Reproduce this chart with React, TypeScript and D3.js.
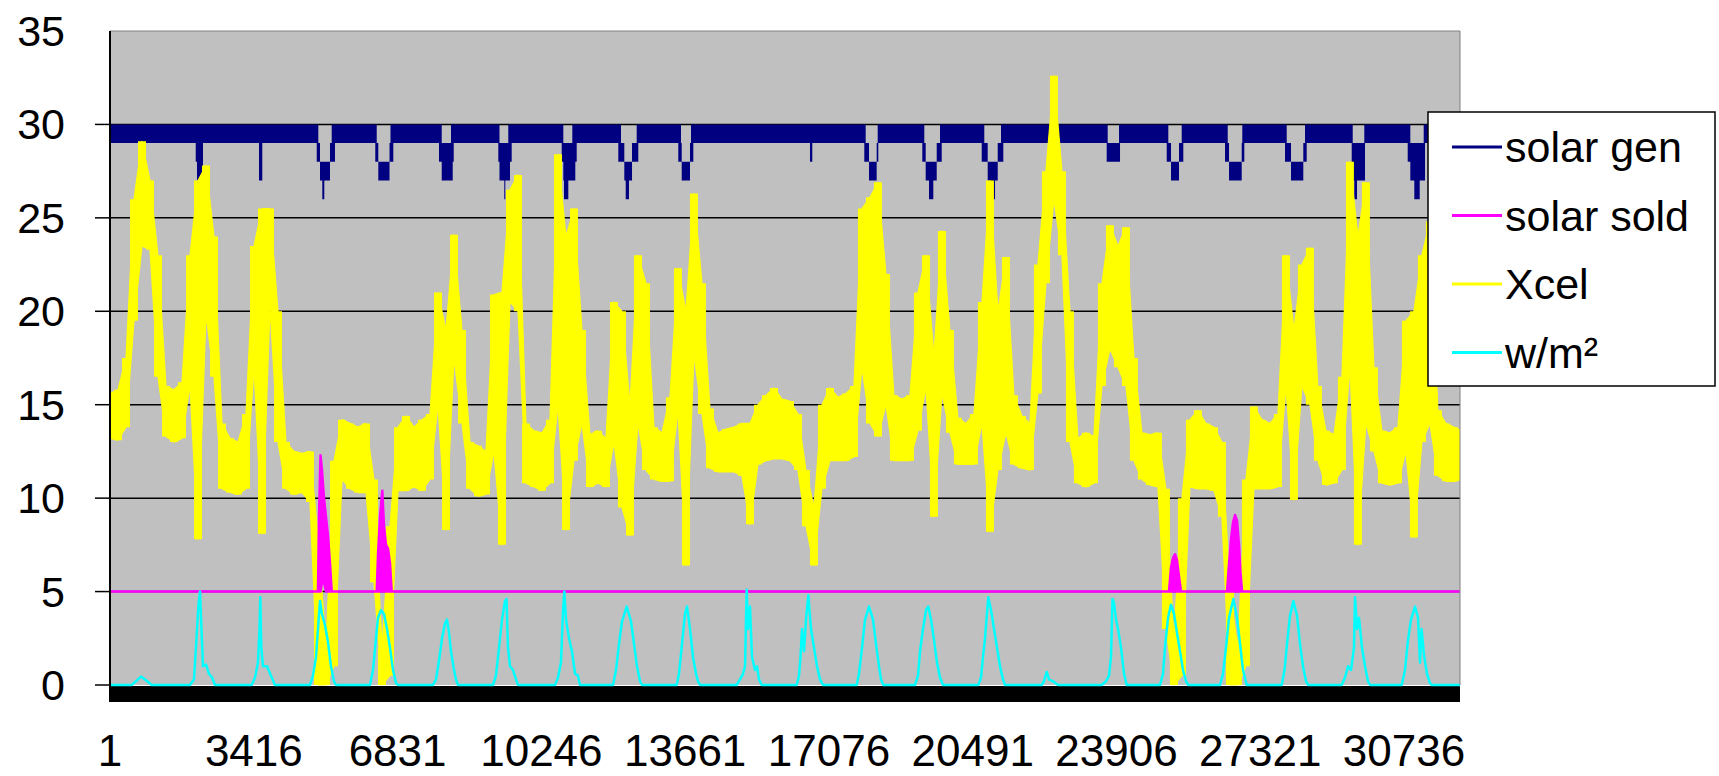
import React from "react";
import * as d3 from "d3";

const W = 1719;
const H = 776;
const N_POINTS = 32065;
const SAMPLE_STEP = 190; // Xcel low/high read every 190 readings

const yTicks = [0, 5, 10, 15, 20, 25, 30, 35];
const xLabels = [1, 3416, 6831, 10246, 13661, 17076, 20491, 23906, 27321, 30736];

// solar gen: stepped levels, each starting at a reading index
const genIdx = [
  0, 2036, 2066, 2121, 2173, 2209, 3539, 3617,
  4910, 4948, 4988, 5043, 5090, 5225, 5266, 5344,
  6301, 6335, 6373, 6639, 6662, 6729,
  7814, 7879, 8099, 8140, 8164,
  9223, 9251, 9365, 9389, 9460, 9501, 9541,
  10729, 10767, 10783, 10886, 10981, 11052, 11085,
  12073, 12137, 12216, 12249, 12327, 12399, 12510, 12548,
  13498, 13562, 13579, 13776, 13800, 13855,
  16626, 16681,
  17916, 17949, 18028, 18210, 18234, 18249,
  19294, 19341, 19374, 19453, 19555, 19636, 19714, 19755,
  20705, 20766, 20847, 20878, 21021, 21085, 21163, 21218,
  23673, 23697, 23966, 23990,
  25099, 25137, 25201, 25391, 25455, 25493,
  26484, 26548, 26579, 26880, 26894, 26942,
  27909, 27949, 28051, 28343, 28384, 28424,
  29493, 29517, 29555, 29619, 29792, 29809,
  30823, 30885, 30980, 31108, 31203, 31234,
  32065,
];
const genLow = [
  29, 28, 27, 26, 27, 29, 27, 29,
  28, 28, 27, 26, 27, 28, 28, 29,
  28, 28, 27, 28, 28, 29,
  28, 27, 27, 28, 29,
  28, 27, 26, 27, 27, 28, 29,
  28, 27, 26, 27, 27, 28, 29,
  28, 28, 27, 26, 27, 28, 28, 29,
  28, 28, 27, 28, 28, 29,
  28, 29,
  28, 28, 27, 28, 28, 29,
  28, 28, 27, 26, 27, 28, 28, 29,
  28, 28, 27, 26, 27, 28, 28, 29,
  28, 28, 28, 29,
  28, 28, 27, 28, 28, 29,
  28, 28, 27, 28, 28, 29,
  28, 28, 27, 28, 28, 29,
  27, 27, 26, 27, 27, 29,
  28, 27, 26, 27, 27, 29,
  29,
];
const genHigh = [
  30, 30, 30, 30, 30, 30, 30, 30,
  30, 29, 28, 28, 28, 29, 30, 30,
  30, 29, 28, 29, 30, 30,
  30, 29, 30, 30, 30,
  30, 29, 29, 29, 30, 30, 30,
  30, 29, 29, 29, 30, 30, 30,
  30, 29, 28, 28, 28, 29, 30, 30,
  30, 29, 28, 29, 30, 30,
  30, 30,
  30, 29, 28, 29, 30, 30,
  30, 29, 28, 28, 28, 29, 30, 30,
  30, 29, 28, 28, 28, 29, 30, 30,
  30, 29, 30, 30,
  30, 29, 28, 29, 30, 30,
  30, 29, 28, 29, 30, 30,
  30, 29, 28, 29, 30, 30,
  30, 29, 29, 29, 30, 30,
  30, 29, 29, 29, 30, 30,
  30,
];

// solar sold: mostly flat at 5 with four selling spells
const soldIdx = [
  0,
  4940, 4964, 5000, 5035, 5083, 5130, 5178, 5225, 5266,
  6335, 6366, 6413, 6468, 6508, 6556, 6603, 6651, 6691,
  25153, 25201, 25248, 25296, 25343, 25391, 25439,
  26531, 26579, 26626, 26674, 26721, 26769, 26816, 26852, 26888,
  32065,
];
const soldLow = [
  5,
  5, 5, 5, 5.5, 5.5, 5, 5, 5, 5,
  5, 5, 5, 5, 5, 5, 5, 5, 5,
  5, 5, 5, 5, 5, 5, 5,
  5, 5, 5, 5, 5, 5, 5, 5, 5,
  5,
];
const soldHigh = [
  5,
  5, 9, 12.3, 11.5, 10, 9, 8, 6.5, 5,
  5, 7, 9, 10.4, 8.5, 7.5, 7.3, 6.5, 5,
  5, 6.3, 6.8, 7.0, 6.7, 5.8, 5,
  5, 6.5, 7.8, 8.7, 9.1, 8.8, 7.5, 6, 5,
  5,
];

// Xcel: low / high of the noisy trace in each block of SAMPLE_STEP readings
const xcelLow = [
  13.2, 13.1, 13.8, 19.5, 23.5, 23.3, 16.5, 13.3, 13.0, 13.2,
  16, 7.8, 19.8, 16.5, 10.5, 10.3, 10.2, 10.5, 17.0, 8.1,
  20.2, 13, 10.5, 10.2, 10.3, 9.8, 0, 0, 1, 11,
  10.5, 10.3, 10.3, 5.5, 0, 0.5, 10.4, 10.4, 10.6, 10.4,
  11, 15, 8.3, 17.5, 14, 10.5, 10.1, 10.2, 12.5, 7.5,
  20.5, 20, 10.8, 10.6, 10.4, 10.8, 15, 8.3, 12, 14,
  10.6, 10.8, 10.6, 13, 9.5, 8.0, 14, 11.5, 11, 10.9,
  10.9, 14.7, 6.4, 17.7, 14.5, 11.6, 11.4, 11.4, 11.4, 11.2,
  8.6, 11.8, 12, 12.1, 12.1, 12.0, 11.5, 8.5, 6.4, 10.5,
  12.0, 12.0, 12.0, 12.2, 17, 14, 13.3, 15, 12.0, 12,
  12.0, 13.6, 15.9, 9.0, 15.6, 13.5, 11.8, 11.8, 11.8, 14,
  8.2, 11.5, 13.5, 11.8, 11.6, 11.5, 15.6, 21.5, 26, 23,
  13, 10.8, 10.6, 10.8, 16, 18, 17, 16, 12, 11,
  10.7, 10.6, 3, 0, 0.5, 10.6, 10.5, 10.5, 10.4, 9,
  0, 0, 1, 10.5, 10.5, 10.5, 10.6, 16, 9.9, 16,
  15, 12, 10.7, 10.8, 11.5, 17, 7.5, 14, 12.5, 10.8,
  10.7, 10.8, 12.5, 7.9, 13, 14, 11.2, 10.9, 10.9, 11,
];
const xcelHigh = [
  15.6, 15.8, 17.5, 26, 29.1, 27.0, 23, 16.0, 15.8, 16.2,
  23, 27, 27.8, 24, 14.0, 13.2, 13.0, 14.5, 23.5, 25.5,
  25.5, 20, 13.0, 12.5, 12.4, 12.5, 8, 2, 12, 14.2,
  14.0, 13.8, 14.0, 11, 2, 8.5, 13.8, 14.4, 13.8, 14.2,
  14.5, 21, 19, 24.1, 19, 13, 12.8, 12.5, 20.9, 21,
  26.5, 27.3, 14.0, 13.6, 13.5, 14.2, 28.4, 24, 25.5, 19,
  13.4, 13.6, 13.2, 20.5, 20, 15, 23, 21.5, 13.8, 13.5,
  15.4, 22.3, 20, 26.3, 21.5, 14.8, 13.5, 13.7, 13.8, 14.0,
  14, 15.0, 15.5, 15.9, 15.3, 15.2, 14.5, 11.5, 9.5, 15,
  15.9, 15.4, 15.6, 16, 25.5, 26.1, 26.9, 22, 15.5, 15.3,
  15.5, 21, 23, 17.6, 24.3, 19, 14.3, 14.0, 14.5, 20.5,
  27.0, 20, 22.9, 15.5, 14.4, 14.0, 22.5, 27.5, 32.6, 27.5,
  20, 13.2, 13.5, 13.3, 21.5, 24.6, 23.5, 24.5, 17.5, 13.5,
  13.4, 13.5, 10.5, 2.5, 10, 14.2, 14.7, 14.0, 13.8, 13,
  5, 2, 11, 14.9, 14.2, 14.0, 14.5, 23, 19, 22.5,
  23.4, 16, 13.6, 13.4, 16.5, 28, 24, 26.9, 17, 13.6,
  13.5, 13.8, 19.5, 20, 23, 24.8, 14.7, 14.0, 13.8, 13.6,
];

// w/m²: daily irradiance humps
const wmIdx = [
  0,
  515, 665, 736, 855, 990,
  1900, 1995, 2055, 2102, 2138, 2173, 2209, 2280, 2351, 2423, 2494,
  3366, 3444, 3515, 3551, 3570, 3594, 3634, 3729, 3824, 3919,
  4750, 4822, 4893, 4940, 4988, 5035, 5107, 5178, 5249, 5320, 5368,
  6176, 6247, 6318, 6366, 6437, 6508, 6579, 6651, 6722, 6793, 6841,
  7672, 7743, 7814, 7886, 7957, 8004, 8052, 8099, 8171, 8218, 8266,
  9097, 9168, 9240, 9311, 9382, 9418, 9453, 9501, 9572, 9643, 9691,
  10570, 10641, 10712, 10760, 10791, 10831, 10902, 10973, 11045, 11116, 11163,
  11947, 12019, 12090, 12161, 12273, 12375, 12446, 12517, 12589, 12636,
  13460, 13515, 13586, 13657, 13705, 13776, 13847, 13919, 13966, 14014,
  14885, 14964, 15035, 15083, 15123, 15154, 15201, 15249, 15320, 15368, 15415, 15479,
  16311, 16365, 16401, 16436, 16484, 16531, 16586, 16650, 16721, 16793, 16864, 16935,
  17736, 17790, 17862, 17933, 18028, 18123, 18194, 18265, 18313, 18367,
  19120, 19192, 19239, 19310, 19382, 19436, 19500, 19572, 19643, 19714, 19785,
  20624, 20688, 20735, 20783, 20818, 20861, 20926, 20997, 21068, 21139, 21211, 21258,
  22130, 22184, 22248, 22303, 22398, 22517,
  23555, 23657, 23728, 23776, 23811, 23847, 23895, 23942, 24013, 24085, 24149,
  24940, 25011, 25058, 25130, 25201, 25272, 25343, 25415, 25486, 25558, 25612,
  26365, 26436, 26507, 26579, 26681, 26769, 26840, 26911, 26999,
  27830, 27897, 27956, 28027, 28106, 28194, 28265, 28336, 28408, 28462,
  29255, 29334, 29405, 29476, 29547, 29571, 29619, 29666, 29737, 29809, 29880, 29928,
  30681, 30758, 30830, 30901, 30996, 31068, 31115, 31151, 31210, 31281, 31353, 31393,
  32065,
];
const wmValue = [
  0,
  0, 0.3, 0.45, 0.25, 0,
  0, 0.3, 2.5, 4.3, 5.0, 3.0, 1.0, 1.1, 0.6, 0.4, 0,
  0, 0.4, 1.2, 3, 4.7, 2, 1.0, 1.0, 0.5, 0,
  0, 0.5, 1.5, 3.0, 4.5, 3.8, 3.2, 2.3, 1.0, 0.2, 0,
  0, 0.8, 2.5, 3.6, 4.0, 3.8, 3.0, 2.0, 0.8, 0.1, 0,
  0, 0.3, 1.3, 2.5, 3.3, 3.5, 2.8, 1.8, 0.8, 0.3, 0,
  0, 0.5, 2.0, 3.5, 4.5, 4.6, 2.0, 1.0, 0.8, 0.3, 0,
  0, 0.4, 1.2, 4.0, 5.0, 3.5, 2.5, 1.8, 0.6, 0.5, 0,
  0, 0.8, 2.2, 3.4, 4.2, 3.4, 2.2, 1.0, 0.2, 0,
  0, 0.6, 2.2, 3.8, 4.2, 3.0, 1.5, 0.6, 0.2, 0,
  0, 0.3, 0.6, 1.0, 5.1, 3.0, 4.2, 1.5, 0.8, 1.0, 0.3, 0,
  0, 0.5, 1.5, 3.0, 1.8, 3.5, 4.8, 3.0, 2.0, 1.0, 0.3, 0,
  0, 0.6, 2.0, 3.5, 4.2, 3.5, 2.2, 1.0, 0.3, 0,
  0, 0.5, 1.8, 3.0, 4.0, 4.2, 3.5, 2.4, 1.2, 0.4, 0,
  0, 0.4, 1.5, 2.5, 3.5, 4.7, 4.0, 3.0, 2.0, 1.0, 0.3, 0,
  0, 0.2, 0.7, 0.3, 0.2, 0,
  0, 0.2, 0.5, 1.5, 4.6, 4.4, 3.5, 3.0, 2.0, 0.6, 0,
  0, 0.6, 2.0, 3.6, 4.3, 3.8, 2.8, 1.8, 0.8, 0.2, 0,
  0, 0.6, 2.0, 3.6, 4.6, 3.6, 2.2, 0.8, 0,
  0, 0.8, 2.2, 3.7, 4.5, 3.7, 2.2, 1.0, 0.2, 0,
  0, 0.4, 1.0, 0.8, 2.0, 4.7, 3.0, 3.6, 2.0, 1.0, 0.2, 0,
  0, 0.8, 2.4, 3.5, 4.2, 3.6, 1.2, 3.0, 1.6, 0.6, 0.1, 0,
  0,
];

const seriesNames = ["solar gen", "solar sold", "Xcel", "w/m²"];
const seriesColors = ["#000080", "#FF00FF", "#FFFF00", "#00FFFF"];

export default function App() {
  const plotLeft = 110;
  const plotRight = 1460;
  const plotTop = 31;
  const plotBottom = 685;

  const x = d3.scaleLinear().domain([0, N_POINTS]).range([plotLeft, plotRight]);
  const y = d3.scaleLinear().domain([0, 35]).range([plotBottom, plotTop]);

  const gen = genIdx.map((i, k) => ({ i, lo: genLow[k], hi: genHigh[k] }));
  const sold = soldIdx.map((i, k) => ({ i, lo: soldLow[k], hi: soldHigh[k] }));
  const xcel = xcelLow.map((lo, k) => ({ i: k * SAMPLE_STEP, lo, hi: xcelHigh[k] }));
  const wm = wmIdx.map((i, k) => ({ i, v: wmValue[k] }));

  const bandArea = (curve) =>
    d3
      .area<any>()
      .x((d) => x(d.i))
      .y0((d) => y(d.lo))
      .y1((d) => y(d.hi))
      .curve(curve);

  const genPath = bandArea(d3.curveStepAfter)(gen);
  const soldPath = bandArea(d3.curveLinear)(sold);
  const xcelPath = bandArea(d3.curveLinear)(xcel);
  // the raw trace is very noisy, so each block is also filled over its full width
  const xcelBlocks = bandArea(d3.curveStep)(xcel);
  const wmPath = d3
    .line<any>()
    .x((d) => x(d.i))
    .y((d) => y(d.v))(wm);

  const font = "'Liberation Sans', Arial, sans-serif";

  return (
    <div style={{ position: "absolute", left: 0, top: 0 }}>
      <svg width={W} height={H} style={{ display: "block", background: "#fff" }}>
        <defs>
          <clipPath id="plotClip">
            <rect x={plotLeft} y={plotTop - 10} width={plotRight - plotLeft} height={plotBottom - plotTop + 14} />
          </clipPath>
        </defs>

        <rect x={plotLeft} y={plotTop} width={plotRight - plotLeft} height={plotBottom - plotTop} fill="#C0C0C0" />

        {yTicks
          .filter((t) => t > 0 && t < 35)
          .map((t) => (
            <line key={t} x1={plotLeft} x2={plotRight} y1={y(t)} y2={y(t)} stroke="#000" strokeWidth={1.5} />
          ))}

        <rect x={plotLeft} y={y(0) + 1} width={plotRight - plotLeft} height={16} fill="#000" />

        <g clipPath="url(#plotClip)">
          <path d={genPath} fill={seriesColors[0]} stroke="none" />
          <path d={xcelBlocks} fill={seriesColors[2]} stroke="none" />
          <path d={xcelPath} fill={seriesColors[2]} stroke={seriesColors[2]} strokeWidth={1.2} strokeLinejoin="round" />
          <path d={soldPath} fill={seriesColors[1]} stroke={seriesColors[1]} strokeWidth={2.5} strokeLinejoin="round" />
          <path d={wmPath} fill="none" stroke={seriesColors[3]} strokeWidth={2.5} strokeLinejoin="round" />
        </g>

        <line x1={plotLeft} x2={plotRight} y1={plotTop} y2={plotTop} stroke="#808080" strokeWidth={1} />
        <line x1={plotRight} x2={plotRight} y1={plotTop} y2={plotBottom} stroke="#808080" strokeWidth={1} />
        <line x1={plotLeft} x2={plotLeft} y1={plotTop} y2={y(0) + 17} stroke="#000" strokeWidth={2} />

        {yTicks.map((t) => (
          <g key={t}>
            {t < 35 && <line x1={plotLeft - 15} x2={plotLeft} y1={y(t)} y2={y(t)} stroke="#000" strokeWidth={1.5} />}
            <text x={65} y={y(t) + 15} textAnchor="end" fontFamily={font} fontSize={43} fill="#000">
              {t}
            </text>
          </g>
        ))}

        {xLabels.map((v) => (
          <text key={v} x={x(v)} y={766} textAnchor="middle" fontFamily={font} fontSize={44} fill="#000">
            {v}
          </text>
        ))}

        <g>
          <rect x={1428} y={112} width={287} height={274} fill="#fff" stroke="#000" strokeWidth={1.5} />
          {seriesNames.map((name, k) => {
            const ly = 147 + k * 68.5;
            return (
              <g key={name}>
                <line x1={1452} x2={1502} y1={ly} y2={ly} stroke={seriesColors[k]} strokeWidth={3} />
                <text x={1505} y={ly + 15} fontFamily={font} fontSize={43} fill="#000">
                  {name}
                </text>
              </g>
            );
          })}
        </g>
      </svg>
    </div>
  );
}
